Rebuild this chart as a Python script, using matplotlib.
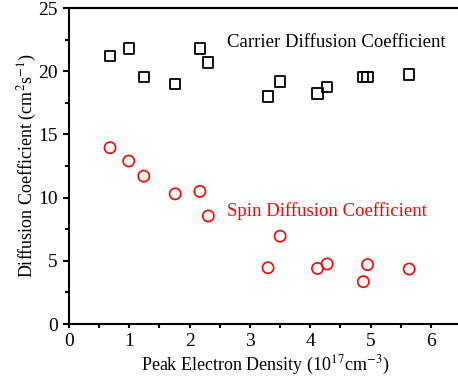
import matplotlib
matplotlib.use('Agg')
import matplotlib.pyplot as plt
from matplotlib.ticker import MultipleLocator

plt.rcParams['font.family'] = ['Liberation Serif', 'DejaVu Serif']
plt.rcParams['mathtext.fontset'] = 'stix'

# Peak electron density (10^17 cm^-3)
density = [0.68, 0.99, 1.24, 1.76, 2.17, 2.31, 3.30, 3.50, 4.12, 4.28, 4.88, 4.95, 5.64]
# Carrier diffusion coefficient (cm^2/s)
carrier_D = [21.2, 21.8, 19.55, 19.0, 21.8, 20.7, 18.0, 19.2, 18.25, 18.75, 19.55, 19.55, 19.75]
# Spin diffusion coefficient (cm^2/s)
spin_D = [13.95, 12.9, 11.7, 10.3, 10.5, 8.55, 4.45, 6.95, 4.4, 4.75, 3.35, 4.7, 4.35]

fig = plt.figure(figsize=(4.58, 3.86), dpi=100)
ax = fig.add_axes([0.1507, 0.1606, 0.8559, 0.8184])

ax.scatter(density, carrier_D, marker='s', s=55, facecolors='none',
           edgecolors='black', linewidths=1.3, zorder=3)
ax.scatter(density, spin_D, marker='o', s=65, facecolors='none',
           edgecolors='red', linewidths=1.2, zorder=3)

ax.text(2.62, 22.3, 'Carrier Diffusion Coefficient', fontsize=13.5,
        color='black', va='center', ha='left')
ax.text(2.62, 8.95, 'Spin Diffusion Coefficient', fontsize=13.5,
        color='red', va='center', ha='left')

ax.set_xlim(0, 6.5)
ax.set_ylim(0, 25)
ax.xaxis.set_major_locator(MultipleLocator(1))
ax.xaxis.set_minor_locator(MultipleLocator(0.5))
ax.yaxis.set_major_locator(MultipleLocator(5))
ax.yaxis.set_minor_locator(MultipleLocator(2.5))
ax.tick_params(which='both', direction='out', width=1.5, labelsize=14)
ax.tick_params(axis='x', which='both', length=3)
ax.tick_params(axis='y', which='major', length=4.5)
ax.tick_params(axis='y', which='minor', length=3)
for sp in ax.spines.values():
    sp.set_linewidth(1.5)

ax.set_xlabel('Peak Electron Density (10$^{17}$cm$^{-3}$)', fontsize=13, labelpad=3)
ax.set_ylabel('Diffusion Coefficient (cm$^{2}$s$^{-1}$)', fontsize=13, labelpad=-0.5)

fig.savefig('out.png', dpi=100)
